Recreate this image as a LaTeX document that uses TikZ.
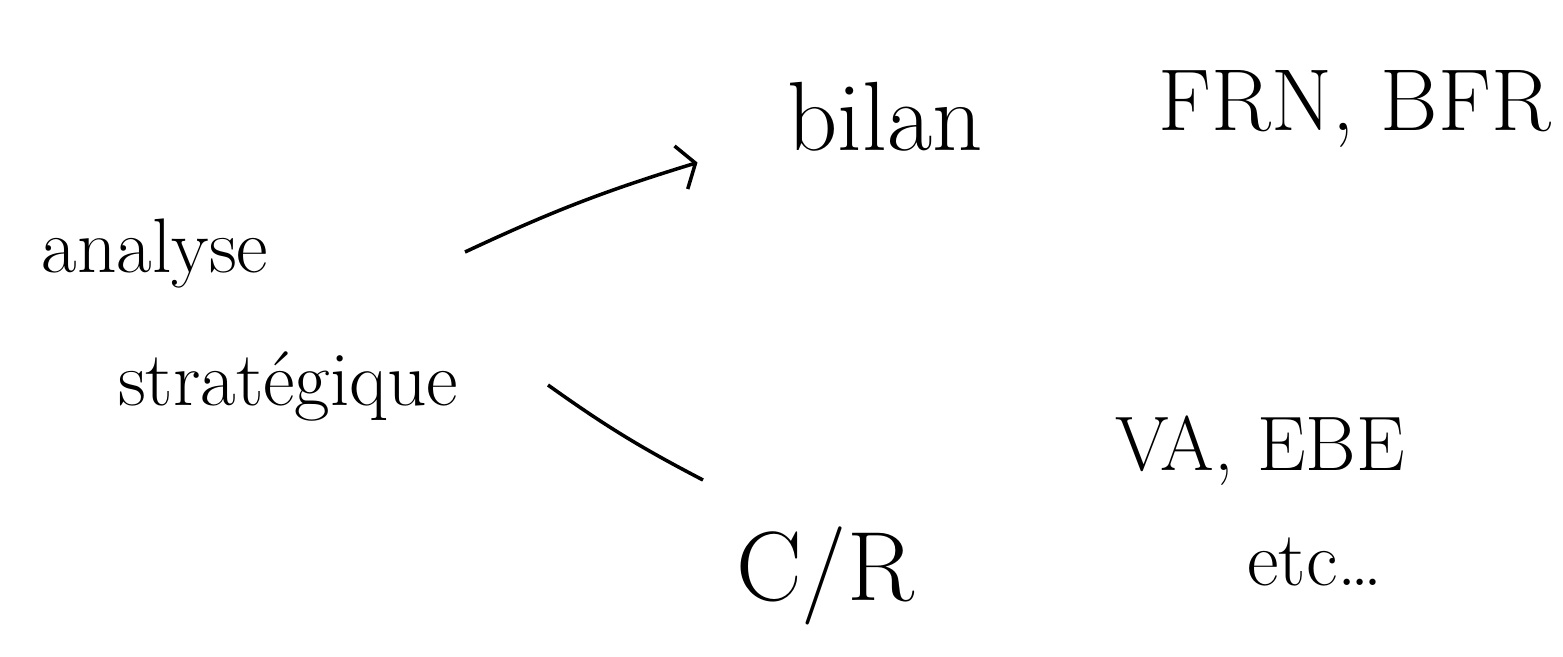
\documentclass[tikz,border=0pt]{standalone}
\usepackage{tikz}
\usetikzlibrary{positioning,arrows.meta,calc}

\begin{document}
\begin{tikzpicture}[
      handtxt/.style={font=\fontsize{44}{50}\selectfont,anchor=base,inner sep=0pt},
      bigtxt/.style={handtxt,font=\fontsize{56}{60}\selectfont},
      arr/.style={-{Straight Barb[length=3mm,width=9mm]},line width=2pt,black},
      lnk/.style={line width=2pt,black}]
    \useasboundingbox (0,0) rectangle (31.26,-13.12);
    \node[handtxt] (analyse) at (3.1,-5.44) {analyse};
    \node[handtxt] (strat) at (5.76,-8.1) {stratégique};
    \node[bigtxt] (bilan) at (17.7,-3.0) {bilan};
    \node[handtxt,font=\fontsize{50}{56}\selectfont] (frn) at (27.1,-2.6) {FRN, BFR};
    \node[bigtxt] (cr) at (16.5,-12.0) {C/R};
    \node[handtxt] (va) at (25.2,-9.4) {VA, EBE};
    \node[handtxt] (etc) at (26.3,-11.7) {etc\dots};
    \coordinate (upstart) at (9.3,-5.04);
    \coordinate (upend) at (13.95,-3.25);
    \coordinate (lostart) at (10.96,-7.7);
    \coordinate (loend) at (14.06,-9.6);
    \draw[arr] (upstart) to[bend left=4] (upend);
    \draw[lnk] (lostart) to[bend right=4] (loend);
  \end{tikzpicture}
\end{document}
